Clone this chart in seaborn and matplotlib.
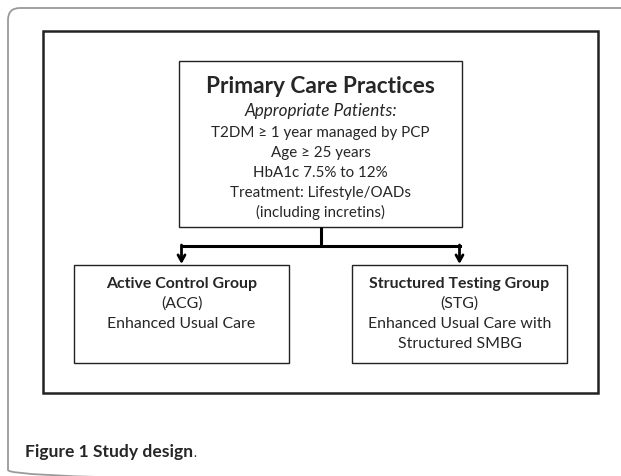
import matplotlib.pyplot as plt
import seaborn as sns
from matplotlib.patches import Rectangle, FancyBboxPatch

# text content of the flow diagram
top_title = "Primary Care Practices"
top_subtitle = "Appropriate Patients:"
top_criteria = [
    "T2DM \u2265 1 year managed by PCP",
    "Age \u2265 25 years",
    "HbA1c 7.5% to 12%",
    "Treatment: Lifestyle/OADs",
    "(including incretins)",
]
group_titles = ["Active Control Group", "Structured Testing Group"]
group_lines = [
    ["(ACG)", "Enhanced Usual Care"],
    ["(STG)", "Enhanced Usual Care with", "Structured SMBG"],
]
caption_bold = "Figure 1 Study design"
caption_tail = "."

sns.set_style("white")
plt.rcParams['font.family'] = ['Lato', 'DejaVu Sans']

fig = plt.figure(figsize=(6.21, 4.77), dpi=100)
ax = fig.add_axes([0, 0, 1, 1])
ax.set_xlim(0, 621)
ax.set_ylim(477, 0)
ax.axis('off')

# page frame (rounded, grey), bottom and right run off the page
ax.add_patch(FancyBboxPatch((8, 9), 700, 474, boxstyle="round,pad=0,rounding_size=12",
                            fill=False, ec="#9a9a9a", lw=1.3))

# outer box
ax.add_patch(Rectangle((43, 32), 555, 362, fill=False, ec="#222222", lw=1.8))

# top box
ax.add_patch(Rectangle((179, 62), 283, 166, fill=False, ec="#222222", lw=1.0))
cx = 320.5
ax.text(cx, 93, top_title, ha='center', va='baseline', fontsize=16.3, fontweight='bold')
ax.text(cx, 116, top_subtitle, ha='center', va='baseline', fontsize=12.3, style='italic')
for i, line in enumerate(top_criteria):
    ax.text(cx, 137 + 20 * i, line, ha='center', va='baseline', fontsize=10.9)

# group boxes
boxes = [(74, 289), (352, 567)]
for (x0, x1), title, lines in zip(boxes, group_titles, group_lines):
    ax.add_patch(Rectangle((x0, 266), x1 - x0, 98, fill=False, ec="#222222", lw=1.0))
    gx = (x0 + x1) / 2
    ax.text(gx, 288, title, ha='center', va='baseline', fontsize=11.4, fontweight='bold')
    for i, line in enumerate(lines):
        ax.text(gx, 308 + 20 * i, line, ha='center', va='baseline', fontsize=11.4)

# connectors
ax.plot([cx, cx], [228, 247], color='black', lw=2.2, solid_capstyle='butt')
ax.plot([181.5, 459.5], [247, 247], color='black', lw=2.2, solid_capstyle='projecting')
for (x0, x1) in boxes:
    gx = (x0 + x1) / 2
    ax.annotate("", xy=(gx, 265), xytext=(gx, 246),
                arrowprops=dict(arrowstyle='->,head_length=0.45,head_width=0.25',
                                color='black', lw=2.0, shrinkA=0, shrinkB=0))

# caption
t = ax.text(25, 457, caption_bold, ha='left', va='baseline', fontsize=12.6, fontweight='bold')
fig.canvas.draw()
bb = t.get_window_extent()
x_end = ax.transData.inverted().transform((bb.x1, bb.y0))[0]
ax.text(x_end, 457, caption_tail, ha='left', va='baseline', fontsize=9)

fig.savefig("out.png", dpi=100, facecolor='white')
